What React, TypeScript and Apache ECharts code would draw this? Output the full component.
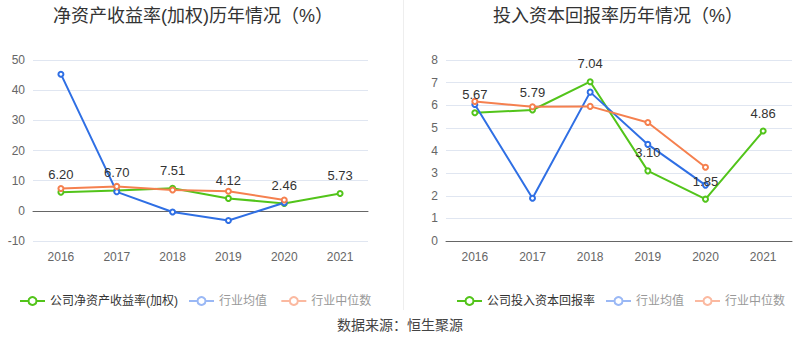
import React, { useEffect, useRef } from "react";
import * as echarts from "echarts";

const years = ["2016", "2017", "2018", "2019", "2020", "2021"];
const roeCompany = [6.2, 6.7, 7.51, 4.12, 2.46, 5.73];
const roeMean = [45.3, 6.3, -0.4, -3.2, 2.7, null];
const roeMedian = [7.4, 8.1, 6.9, 6.5, 3.6, null];
const roicCompany = [5.67, 5.79, 7.04, 3.1, 1.85, 4.86];
const roicMean = [6.03, 1.89, 6.58, 4.27, 2.47, null];
const roicMedian = [6.17, 5.93, 5.95, 5.24, 3.26, null];

const GREEN = "#52c41a";
const BLUE = "#2f6fe4";
const ORANGE = "#f5804f";
const FONT = "'Liberation Sans', 'Noto Sans CJK SC', sans-serif";

export default function App() {
  const ref = useRef<HTMLDivElement>(null);
  useEffect(() => {
    if (!ref.current) return;
    const chart = echarts.init(ref.current, undefined, { renderer: "svg" });
    const mkLine = (name: string, data: any[], color: string, xi: number, label: boolean) => ({
      name,
      type: "line",
      xAxisIndex: xi,
      yAxisIndex: xi,
      data,
      symbol: "emptyCircle",
      symbolSize: 5,
      lineStyle: { width: 2, color },
      itemStyle: { color, borderWidth: 2 },
      label: label
        ? { show: true, position: "top", distance: 8, color: "#333", fontSize: 13, fontFamily: FONT, formatter: (p: any) => p.value.toFixed(2) }
        : { show: false },
    });
    const fadedLegend = (name: string, color: string) => ({
      name,
      textStyle: { color: "#999" },
      itemStyle: { color: color, borderColor: color },
      lineStyle: { color },
    });
    const xAxisCommon = {
      type: "category",
      data: years,
      boundaryGap: true,
      axisTick: { alignWithLabel: true, lineStyle: { color: "#666" } },
      axisLine: { lineStyle: { color: "#666" } },
      axisLabel: { color: "#666", fontSize: 12, fontFamily: FONT, margin: 10 },
    };
    const yAxisCommon = {
      type: "value",
      axisLine: { show: false },
      axisTick: { show: false },
      axisLabel: { color: "#666", fontSize: 12, fontFamily: FONT },
      splitLine: { lineStyle: { color: "#e0e6f1" } },
    };
    chart.setOption({
      animation: false,
      textStyle: { fontFamily: FONT },
      title: [
        { text: "净资产收益率(加权)历年情况（%）", left: 48, top: 2, textStyle: { fontSize: 18, fontWeight: "normal", color: "#333", fontFamily: FONT } },
        { text: "投入资本回报率历年情况（%）", left: 488, top: 2, textStyle: { fontSize: 18, fontWeight: "normal", color: "#333", fontFamily: FONT } },
      ],
      legend: [
        {
          left: 14,
          top: 290,
          itemWidth: 25,
          itemHeight: 10,
          itemGap: 10,
          textStyle: { color: "#333", fontSize: 12, fontFamily: FONT },
          data: [
            { name: "公司净资产收益率(加权)" },
            fadedLegend("行业均值 ", "#9ab8f5"),
            fadedLegend("行业中位数 ", "#fbb9a0"),
          ],
        },
        {
          left: 451,
          top: 290,
          itemWidth: 25,
          itemHeight: 10,
          itemGap: 10,
          textStyle: { color: "#333", fontSize: 12, fontFamily: FONT },
          data: [
            { name: "公司投入资本回报率" },
            fadedLegend("行业均值", "#9ab8f5"),
            fadedLegend("行业中位数", "#fbb9a0"),
          ],
        },
      ],
      grid: [
        { left: 33, right: 432, top: 60, bottom: 117 },
        { left: 446, right: 8, top: 60, bottom: 117 },
      ],
      xAxis: [
        { ...xAxisCommon, gridIndex: 0 },
        { ...xAxisCommon, gridIndex: 1 },
      ],
      yAxis: [
        { ...yAxisCommon, gridIndex: 0, min: -10, max: 50, interval: 10 },
        { ...yAxisCommon, gridIndex: 1, min: 0, max: 8, interval: 1 },
      ],
      series: [
        mkLine("公司净资产收益率(加权)", roeCompany, GREEN, 0, true),
        mkLine("行业均值 ", roeMean, BLUE, 0, false),
        mkLine("行业中位数 ", roeMedian, ORANGE, 0, false),
        mkLine("公司投入资本回报率", roicCompany, GREEN, 1, true),
        mkLine("行业均值", roicMean, BLUE, 1, false),
        mkLine("行业中位数", roicMedian, ORANGE, 1, false),
      ],
      graphic: [
        { type: "line", shape: { x1: 403.5, y1: 0, x2: 403.5, y2: 310 }, style: { stroke: "#eeeeee", lineWidth: 1 } },
        {
          type: "text",
          x: 400,
          y: 325,
          style: { text: "数据来源：恒生聚源", fill: "#444", fontSize: 14, fontFamily: FONT, align: "center", verticalAlign: "middle" },
        },
      ],
    });
    return () => chart.dispose();
  }, []);
  return <div ref={ref} style={{ width: 800, height: 358, position: "absolute", left: 0, top: 0 }} />;
}
